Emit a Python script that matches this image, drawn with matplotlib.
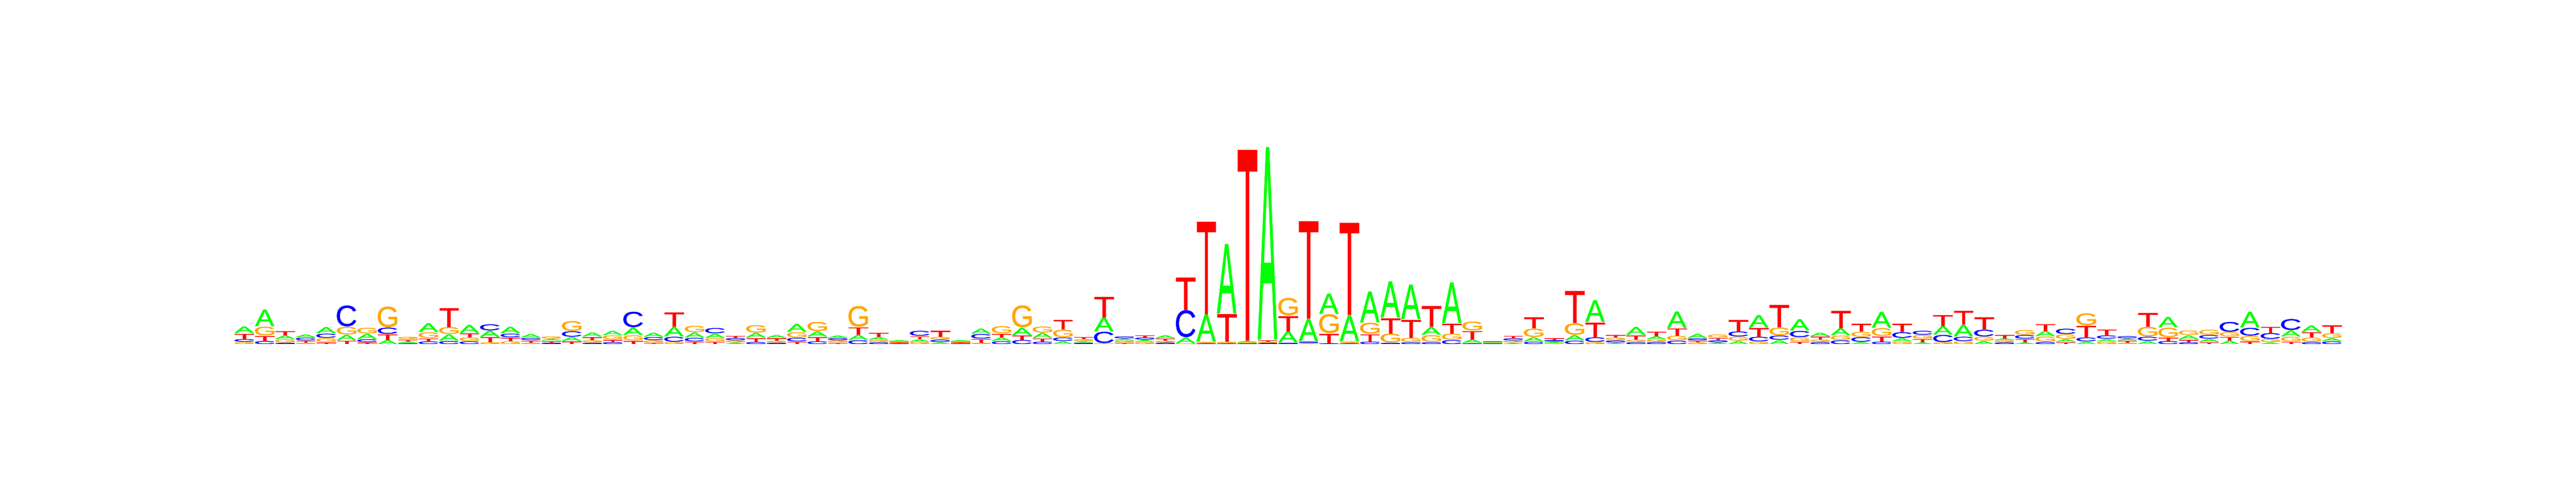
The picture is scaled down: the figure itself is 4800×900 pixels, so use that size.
import numpy as np
import matplotlib
matplotlib.use("Agg")
import matplotlib.pyplot as plt
from matplotlib.textpath import TextPath
from matplotlib.patches import PathPatch
from matplotlib.font_manager import FontProperties
from matplotlib.transforms import Affine2D

# letter heights per position (~2 bits = 370)
A = [12.0, 30.7, 6, 4.7, 11, 9.3, 9, 7.3, 2.4, 15.7,
     11.3, 14.3, 10.7, 11.7, 6, 2.5, 6.7, 7, 7.3, 13.3,
     6.7, 17.3, 8.7, 7.3, 2.3, 8, 4.7, 14.3, 8.7, 4,
     8.7, 4.3, 1.3, 4, 3.0, 1.3, 8.7, 5.9, 13, 8.7,
     4.7, 2, 25.3, 2.8, 3.1, 5, 10, 50, 129, 2,
     358, 20, 41, 37, 48, 57, 67, 64, 14, 75,
     6, 0.5, 2, 7, 1.5, 9, 40, 2, 14.3, 5.3,
     30, 7.3, 2.5, 5.3, 22.7, 7, 20.7, 6, 12.7, 3.3,
     28.7, 5.3, 2.7, 15.3, 21.3, 5.3, 2.7, 2.7, 9.4, 4,
     4, 4, 2.7, 5.3, 18.7, 6.7, 4.7, 5.9, 28.7, 2.7,
     10.7, 11.3, 4.7]
C = [4.3, 5.3, 2, 4.5, 7.3, 38.7, 4.7, 11.3, 1, 4.5,
     5.3, 4.7, 10.7, 6.1, 3.4, 2, 9.7, 2, 3.2, 28.3,
     5, 8.7, 6, 9.3, 3.2, 3.3, 2.0, 6, 4.7, 2.8,
     6.7, 2.7, 0.5, 8.7, 3.3, 0.5, 8, 4.7, 7.2, 4,
     6, 1.9, 20.7, 3, 3.2, 2.2, 50, 1, 0.5, 0.5,
     1.5, 2, 2, 1, 1, 4, 2, 3, 3, 7,
     1, 0.3, 3.4, 4, 2, 6, 8, 3, 3.0, 3.2,
     6, 2.7, 2.7, 8.7, 8, 7.3, 11, 3.2, 6.7, 8,
     4, 10, 6.7, 12.7, 7.3, 12, 2.5, 6, 3.3, 9.3,
     6.7, 5.3, 3.3, 6.7, 5.2, 2.7, 6, 18, 14, 10.3,
     20, 3.3, 4.5]
G = [3.3, 15.7, 5.3, 2, 6.7, 13.7, 10, 38, 3.3, 10,
     12.3, 6, 2.7, 4.7, 2, 3.3, 17.7, 3.3, 6.7, 8.7,
     3.3, 3.3, 11.3, 5.3, 2.7, 13.3, 2.2, 9.3, 16.7, 2.7,
     38.3, 3.3, 0.5, 3.3, 4, 0.5, 2, 12.7, 40.7, 10.7,
     13.3, 2.1, 0.7, 2.4, 3, 2.3, 0.5, 1.5, 2, 0.5,
     1.5, 32, 1, 35, 2, 20, 16, 7, 12, 11,
     16, 0.3, 2.5, 15, 1, 21, 3, 4, 3.3, 3.4,
     8, 2.4, 5.3, 6.7, 4, 13.7, 6.7, 3.3, 7.3, 8.7,
     14, 4, 6, 2.7, 4.7, 6.7, 2.6, 8, 9.2, 8,
     22, 3.9, 2, 17.3, 17.3, 8, 8.7, 7.3, 8.7, 4.7,
     8, 7.3, 8]
T = [9.3, 8.7, 7.3, 2.7, 2.7, 6.3, 2.7, 9.3, 2.7, 4.7,
     34.7, 6.7, 8.7, 5.9, 3.3, 2.3, 4.7, 5.3, 3.4, 6,
     2, 25.7, 4, 4, 3.4, 6.7, 4, 4, 7.3, 2.5,
     13.3, 6.7, 0.8, 4.7, 10.7, 0.8, 6, 6.1, 7.3, 5.3,
     17, 3.3, 38, 2, 3.4, 3, 59.7, 171.7, 51, 355,
     2, 28, 181, 17, 171, 13, 28, 33, 38, 18,
     15, 0.5, 3.5, 20, 2.5, 59, 27, 4.2, 7.3, 7.3,
     12.7, 2.6, 3.3, 20.3, 15.3, 41, 4, 4.7, 31.3, 14.3,
     9, 14.7, 5.3, 20, 24.7, 22, 5.3, 5.3, 11.3, 3.3,
     20.7, 10.7, 2.6, 24.7, 5.3, 4, 3.3, 6.1, 4.7, 10.7,
     4, 8.7, 14]

letters = ['A', 'C', 'G', 'T']
colors = {'A': '#00ff00', 'C': '#0000ff', 'G': '#ffa500', 'T': '#ff0000'}
heights = {'A': A, 'C': C, 'G': G, 'T': T}
n = len(A)

fig = plt.figure(figsize=(48, 9), dpi=100)
ax = fig.add_axes([436 / 4800, 259 / 900, 3928 / 4800, 370 / 900])
ax.set_xlim(-0.5, n - 0.5)
ax.set_ylim(0, 370)
ax.axis('off')

fp = FontProperties(family='Liberation Sans')
glyphs = {}
for ch in letters:
    p = TextPath((0, 0), ch, size=1, prop=fp)
    glyphs[ch] = (p, p.get_extents())

width = 0.94
gap = 1.2

for i in range(n):
    stack = sorted(letters, key=lambda ch: heights[ch][i])
    y = 0.0
    for ch in stack:
        h = heights[ch][i]
        p, bb = glyphs[ch]
        tr = (Affine2D().translate(-bb.x0, -bb.y0)
              .scale(width / bb.width, h / bb.height)
              .translate(i - width / 2, y))
        ax.add_patch(PathPatch(tr.transform_path(p), facecolor=colors[ch],
                               edgecolor=colors[ch], lw=0.4))
        y += h + gap

fig.savefig('out.png', dpi=100)
